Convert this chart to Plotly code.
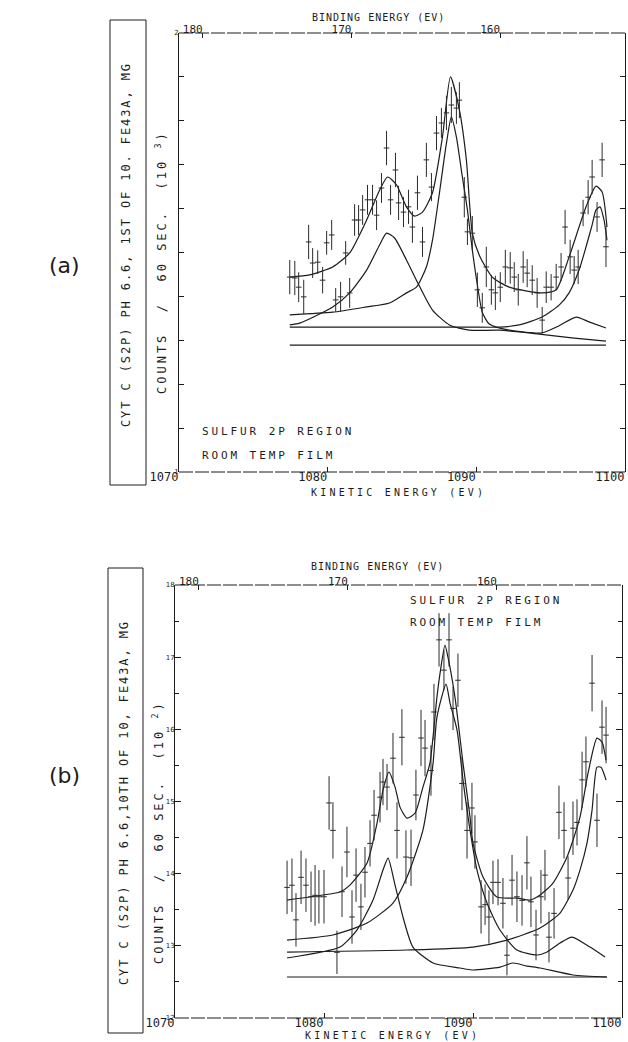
import plotly.graph_objects as go

W, H = 628, 1042
INK = "#1c1c1c"
MONO = "DejaVu Sans Mono"
BE_SUM = 1251.6  # binding energy + kinetic energy (eV)

# ---------------- Panel (a): CYT C (S2P), 1st of 10 scans ----------------
ke_a = [1077.45, 1077.79, 1078.05, 1078.39, 1078.72, 1078.99, 1079.33, 1079.66, 1079.93, 1080.27,
        1080.54, 1080.87, 1081.21, 1081.48, 1081.81, 1082.08, 1082.35, 1082.68, 1083.02, 1083.29,
        1083.62, 1083.96, 1084.23, 1084.56, 1084.77, 1085.10, 1085.44, 1085.70, 1086.04, 1086.38,
        1086.64, 1086.98, 1087.32, 1087.65, 1087.99, 1088.32, 1088.66, 1088.86, 1089.19, 1089.40,
        1089.73, 1090.07, 1090.40, 1090.67, 1091.01, 1091.28, 1091.61, 1091.95, 1092.28, 1092.55,
        1092.82, 1093.15, 1093.42, 1093.76, 1094.09, 1094.43, 1094.70, 1095.03, 1095.37, 1095.70,
        1095.97, 1096.31, 1096.58, 1096.85, 1097.18, 1097.52, 1097.79, 1098.12, 1098.46, 1098.72]
counts_a = [1.444, 1.442, 1.421, 1.399, 1.524, 1.476, 1.478, 1.437, 1.522, 1.540,
            1.392, 1.399, 1.499, 1.408, 1.574, 1.574, 1.597, 1.620, 1.620, 1.585,
            1.647, 1.738, 1.620, 1.688, 1.613, 1.592, 1.604, 1.558, 1.636, 1.524,
            1.711, 1.649, 1.772, 1.795, 1.818, 1.836, 1.829, 1.847, 1.626, 1.547,
            1.544, 1.415, 1.374, 1.467, 1.415, 1.408, 1.421, 1.467, 1.465, 1.444,
            1.415, 1.467, 1.453, 1.437, 1.408, 1.346, 1.421, 1.421, 1.444, 1.467,
            1.558, 1.490, 1.460, 1.467, 1.590, 1.626, 1.672, 1.581, 1.711, 1.513]
err_a = [0.039, 0.039, 0.034, 0.039, 0.039, 0.034, 0.027, 0.030, 0.027, 0.034,
         0.027, 0.034, 0.027, 0.034, 0.036, 0.034, 0.034, 0.034, 0.034, 0.034,
         0.034, 0.039, 0.034, 0.039, 0.039, 0.034, 0.039, 0.036, 0.039, 0.034,
         0.039, 0.032, 0.039, 0.034, 0.039, 0.041, 0.036, 0.041, 0.046, 0.030,
         0.039, 0.039, 0.034, 0.046, 0.034, 0.039, 0.034, 0.039, 0.036, 0.034,
         0.036, 0.036, 0.032, 0.034, 0.034, 0.030, 0.036, 0.030, 0.030, 0.032,
         0.039, 0.039, 0.032, 0.039, 0.030, 0.039, 0.039, 0.034, 0.039, 0.046]

total_ke_a = [1077.45, 1078.79, 1080.34, 1081.48, 1082.62, 1083.49, 1084.03, 1084.63, 1085.30,
              1085.84, 1086.38, 1087.05, 1087.72, 1088.26, 1088.86, 1089.33, 1089.73, 1090.20,
              1091.07, 1092.21, 1094.43, 1095.37, 1096.24, 1097.38, 1098.05, 1098.46, 1098.79]
total_a = [1.444, 1.449, 1.467, 1.499, 1.574, 1.642, 1.672, 1.654, 1.604,
           1.583, 1.592, 1.636, 1.763, 1.900, 1.825, 1.711, 1.544, 1.494,
           1.444, 1.421, 1.408, 1.415, 1.490, 1.604, 1.651, 1.638, 1.558]
peak1_ke_a = [1077.45, 1078.12, 1080.34, 1081.48, 1082.62, 1083.49, 1083.96, 1084.50, 1085.30,
              1085.97, 1087.05, 1088.19, 1089.53, 1091.54, 1094.23, 1096.58, 1098.72]
peak1_a = [1.335, 1.339, 1.376, 1.408, 1.460, 1.517, 1.544, 1.533, 1.483,
           1.437, 1.369, 1.335, 1.323, 1.323, 1.314, 1.305, 1.298]
peak2_ke_a = [1077.45, 1080.34, 1082.62, 1084.16, 1085.30, 1085.97, 1086.64, 1087.05, 1087.52,
              1087.99, 1088.32, 1088.66, 1089.06, 1089.40, 1089.73, 1090.07, 1090.40, 1090.87,
              1092.21, 1094.43, 1095.57, 1096.71, 1097.58, 1098.72]
peak2_a = [1.358, 1.364, 1.376, 1.385, 1.408, 1.421, 1.467, 1.528, 1.636,
           1.749, 1.809, 1.763, 1.672, 1.597, 1.506, 1.426, 1.364, 1.337,
           1.323, 1.317, 1.333, 1.353, 1.342, 1.328]
peak3_ke_a = [1077.45, 1089.53, 1091.54, 1092.89, 1094.43, 1095.57, 1096.24, 1096.91, 1097.38,
              1097.79, 1098.05, 1098.32, 1098.59, 1098.79]
peak3_a = [1.330, 1.330, 1.330, 1.335, 1.353, 1.380, 1.408, 1.460, 1.513,
           1.563, 1.597, 1.604, 1.574, 1.528]
base_ke_a = [1077.45, 1098.72]
base_a = [1.289, 1.289]

# ---------------- Panel (b): CYT C (S2P), 10th of 10 scans ----------------
ke_b = [1077.52, 1077.85, 1078.12, 1078.46, 1078.79, 1079.13, 1079.40, 1079.66, 1080.00, 1080.34,
        1080.60, 1080.87, 1081.21, 1081.54, 1081.88, 1082.15, 1082.48, 1082.75, 1083.09, 1083.36,
        1083.76, 1083.96, 1084.23, 1084.63, 1084.90, 1085.23, 1085.50, 1085.84, 1086.17, 1086.51,
        1086.78, 1087.18, 1087.38, 1087.72, 1088.05, 1088.39, 1088.66, 1088.99, 1089.26, 1089.60,
        1089.93, 1090.13, 1090.54, 1090.81, 1091.07, 1091.34, 1091.68, 1092.01, 1092.28, 1092.62,
        1092.95, 1093.29, 1093.62, 1093.89, 1094.23, 1094.56, 1094.83, 1095.10, 1095.44, 1095.77,
        1096.11, 1096.38, 1096.71, 1096.98, 1097.32, 1097.58, 1097.99, 1098.32, 1098.66, 1098.93]
counts_b = [13.81, 13.84, 13.36, 13.95, 13.84, 13.68, 13.70, 13.68, 13.68, 14.98,
            14.60, 12.91, 13.75, 14.30, 13.40, 13.98, 13.54, 14.02, 14.42, 14.81,
            15.06, 15.27, 15.20, 15.60, 14.60, 15.89, 14.23, 14.22, 15.09, 15.88,
            15.74, 15.43, 16.24, 17.24, 16.82, 17.24, 16.29, 16.68, 15.25, 14.60,
            14.91, 14.44, 13.54, 13.57, 13.40, 13.88, 13.88, 13.59, 12.87, 13.91,
            13.68, 13.63, 14.15, 13.61, 13.15, 13.68, 13.98, 13.12, 13.45, 14.85,
            14.60, 13.94, 14.63, 14.71, 15.30, 15.55, 16.64, 14.74, 16.03, 15.92]
err_b = [0.37, 0.37, 0.37, 0.37, 0.37, 0.35, 0.42, 0.37, 0.37, 0.37,
         0.39, 0.30, 0.35, 0.35, 0.37, 0.37, 0.32, 0.35, 0.32, 0.35,
         0.35, 0.32, 0.32, 0.35, 0.39, 0.39, 0.37, 0.39, 0.35, 0.39,
         0.39, 0.35, 0.39, 0.37, 0.28, 0.37, 0.30, 0.37, 0.37, 0.39,
         0.35, 0.37, 0.37, 0.28, 0.37, 0.30, 0.32, 0.35, 0.28, 0.35,
         0.35, 0.35, 0.37, 0.35, 0.35, 0.37, 0.35, 0.35, 0.35, 0.37,
         0.39, 0.30, 0.37, 0.32, 0.39, 0.35, 0.39, 0.37, 0.37, 0.39]

total_ke_b = [1077.52, 1079.93, 1081.07, 1081.74, 1082.89, 1083.56, 1083.96, 1084.36, 1084.77,
              1085.10, 1085.57, 1086.11, 1086.64, 1087.11, 1087.58, 1087.79, 1088.12, 1088.32,
              1088.79, 1089.33, 1089.80, 1090.00, 1090.67, 1091.61, 1092.95, 1093.83, 1094.50,
              1095.37, 1096.31, 1097.18, 1097.72, 1098.32, 1098.66, 1098.93]
total_b = [13.634, 13.704, 13.745, 13.842, 14.147, 14.701, 15.158, 15.407, 15.199,
           14.922, 14.770, 14.839, 15.199, 15.532, 16.446, 16.778, 17.166, 17.000,
           16.446, 15.532, 14.784, 14.424, 13.953, 13.676, 13.662, 13.634, 13.704,
           13.870, 14.230, 14.784, 15.393, 15.878, 15.823, 15.573]
main_ke_b = [1077.52, 1080.60, 1082.89, 1084.63, 1085.57, 1086.64, 1087.32, 1087.58, 1088.19,
             1088.46, 1088.93, 1089.33, 1089.80, 1090.27, 1090.94, 1091.81, 1092.95, 1094.30,
             1094.97, 1095.84, 1096.64, 1097.85, 1098.86]
main_b = [13.080, 13.150, 13.316, 13.593, 13.953, 14.604, 15.532, 16.169, 16.626,
          16.363, 15.989, 15.296, 14.604, 14.050, 13.593, 13.219, 12.942, 12.873,
          12.914, 13.039, 13.122, 12.983, 12.845]
peak1_ke_b = [1077.52, 1081.07, 1082.21, 1083.29, 1083.96, 1084.30, 1084.77, 1085.30, 1085.97,
              1087.32, 1089.13, 1090.00, 1091.81, 1092.68, 1093.62, 1094.50, 1096.71, 1098.99]
peak1_b = [12.831, 12.983, 13.219, 13.634, 14.050, 14.216, 13.842, 13.399, 12.983,
           12.762, 12.693, 12.665, 12.706, 12.762, 12.720, 12.693, 12.596, 12.568]
peak3_ke_b = [1077.52, 1085.57, 1090.00, 1092.28, 1094.50, 1095.84, 1096.71, 1097.18, 1097.65,
              1097.99, 1098.32, 1098.59, 1098.93]
peak3_b = [12.914, 12.942, 12.983, 13.080, 13.247, 13.454, 13.773, 14.050, 14.424,
           14.881, 15.476, 15.476, 15.296]
base_ke_b = [1077.52, 1098.99]
base_b = [12.568, 12.568]

# ---------------- Axis ticks ----------------
ke_ticks = [1070, 1080, 1090, 1100]
ke_ticktext = ["1070", "1080", "1090", "1100"]
be_ticks = [180, 170, 160]
be_ticktext = ["180", "170", "160"]
ya_ticks = [1.0, 1.1, 1.2, 1.3, 1.4, 1.5, 1.6, 1.7, 1.8, 1.9, 2.0]
ya_ticktext = ["1", " ", " ", " ", " ", " ", " ", " ", " ", " ", "2"]
yb_ticks = [12, 13, 14, 15, 16, 17, 18]
yb_ticktext = ["12", "13", "14", "15", "16", "17", "18"]


def fx(px):
    return px / W


def fy(py):
    return 1 - py / H


def spaced(text, ls):
    return f'<span style="letter-spacing:{ls}px">{text}</span>'


def curve(x, y, xa, ya):
    return go.Scatter(x=x, y=y, mode="lines", xaxis=xa, yaxis=ya,
                      line=dict(color=INK, width=1.2, shape="spline", smoothing=0.6),
                      hoverinfo="skip", showlegend=False)


def points(x, y, e, xa, ya):
    return go.Scatter(x=x, y=y, mode="markers", xaxis=xa, yaxis=ya,
                      marker=dict(symbol="line-ew", size=4, color=INK,
                                  line=dict(width=1, color="#2a2a2a")),
                      error_y=dict(type="data", array=e, visible=True, thickness=1,
                                   width=0, color="#2a2a2a"),
                      hoverinfo="skip", showlegend=False)


fig = go.Figure()

for xs, ys in [(base_ke_a, base_a), (peak3_ke_a, peak3_a), (peak1_ke_a, peak1_a),
               (peak2_ke_a, peak2_a), (total_ke_a, total_a)]:
    fig.add_trace(curve(xs, ys, "x", "y"))
fig.add_trace(points(ke_a, counts_a, err_a, "x", "y"))

for xs, ys in [(base_ke_b, base_b), (peak3_ke_b, peak3_b), (peak1_ke_b, peak1_b),
               (main_ke_b, main_b), (total_ke_b, total_b)]:
    fig.add_trace(curve(xs, ys, "x2", "y2"))
fig.add_trace(points(ke_b, counts_b, err_b, "x2", "y2"))

# binding-energy scales along the top edges
fig.add_trace(go.Scatter(x=[], y=[], xaxis="x3", yaxis="y", showlegend=False))
fig.add_trace(go.Scatter(x=[], y=[], xaxis="x4", yaxis="y2", showlegend=False))

tick_font = dict(family=MONO, size=12, color=INK)
small_font = dict(family=MONO, size=11, color=INK)
tiny_font = dict(family="DejaVu Sans", size=7, color=INK)

ke_axis = dict(range=[1070, 1100], tickvals=ke_ticks, ticktext=ke_ticktext,
               ticks="inside", ticklen=5, tickcolor=INK, showline=False,
               showgrid=False, zeroline=False, automargin=False,
               tickfont=tick_font, ticklabelshift=-15, ticklabelstandoff=-4)
be_axis = dict(range=[BE_SUM - 1070, BE_SUM - 1100], tickvals=be_ticks, ticktext=be_ticktext,
               side="top", ticks="inside", ticklen=5, tickcolor=INK, showline=False,
               showgrid=False, zeroline=False, automargin=False, tickfont=small_font,
               ticklabelshift=10, ticklabelstandoff=-3)

fig.update_layout(
    width=W, height=H, margin=dict(l=0, r=0, t=0, b=0, autoexpand=False),
    paper_bgcolor="white", plot_bgcolor="white", showlegend=False,
    xaxis=dict(ke_axis, domain=[fx(179), fx(625)], anchor="y"),
    yaxis=dict(domain=[fy(472), fy(33)], range=[1.0, 2.0], anchor="x",
               tickvals=ya_ticks, ticktext=ya_ticktext, ticks="inside", ticklen=5,
               tickcolor=INK, showline=True, mirror="ticks", linecolor=INK, linewidth=1,
               showgrid=False, zeroline=False, automargin=False, tickfont=tiny_font,
               ticklabelstandoff=-2),
    xaxis3=dict(be_axis, overlaying="x", anchor="y"),
    xaxis2=dict(ke_axis, domain=[fx(175), fx(622)], anchor="y2"),
    yaxis2=dict(domain=[fy(1018), fy(585)], range=[12, 18], anchor="x2",
                tickvals=yb_ticks, ticktext=yb_ticktext, ticks="inside", ticklen=6,
                tickcolor=INK, showline=True, mirror="ticks", linecolor=INK, linewidth=1,
                showgrid=False, zeroline=False, automargin=False, tickfont=tiny_font,
                ticklabelstandoff=-2,
                minor=dict(dtick=0.5, ticks="inside", ticklen=4, tickcolor=INK)),
    xaxis4=dict(be_axis, overlaying="x2", anchor="y2"),
)


def label(text, x, y, size=11, ls=0.0, angle=0, xanchor="center", family=MONO):
    if ls:
        text = spaced(text, ls)
    return dict(text=text, x=fx(x), y=fy(y), xref="paper", yref="paper", showarrow=False,
                textangle=angle, xanchor=xanchor, yanchor="middle",
                font=dict(family=family, size=size, color=INK))


annotations = [
    # panel (a)
    label("(a)", 64, 265, size=22, family="DejaVu Sans"),
    label("CYT C (S2P) PH 6.6, 1ST OF 10. FE43A, MG", 126, 245, size=12, ls=1.9, angle=-90),
    label("COUNTS  /  60 SEC.  (10 <sup>3</sup>)", 161, 262, size=12, ls=3.0, angle=-90),
    label("BINDING ENERGY (EV)", 378, 17, size=10, ls=1.0),
    label("KINETIC ENERGY (EV)", 398, 492, size=10, ls=3.2),
    label("SULFUR 2P REGION", 200, 432, size=11, ls=2.9, xanchor="left"),
    label("ROOM TEMP FILM", 200, 455, size=11, ls=2.9, xanchor="left"),
    # panel (b)
    label("(b)", 64, 775, size=22, family="DejaVu Sans"),
    label("CYT C (S2P) PH 6.6,10TH OF 10, FE43A, MG", 124, 803, size=12, ls=1.9, angle=-90),
    label("COUNTS  /  60 SEC.  (10 <sup>2</sup>)", 158, 832, size=12, ls=3.0, angle=-90),
    label("BINDING ENERGY (EV)", 377, 566, size=10, ls=1.0),
    label("KINETIC ENERGY (EV)", 392, 1035, size=10, ls=3.2),
    label("SULFUR 2P REGION", 408, 600, size=11, ls=2.9, xanchor="left"),
    label("ROOM TEMP FILM", 408, 622, size=11, ls=2.9, xanchor="left"),
]
fig.update_layout(annotations=annotations)

# pen-plotter frame: broken top and bottom edges of each plot box
for xd, yd in [("x domain", "y domain"), ("x2 domain", "y2 domain")]:
    for edge in (0, 1):
        fig.add_shape(type="line", xref=xd, yref=yd, x0=0, x1=1, y0=edge, y1=edge,
                      line=dict(color=INK, width=1, dash="14px,2px"))

# framed title strips at the left of each panel
for x0, y0, x1, y1 in [(110, 20, 146, 485), (108, 568, 143, 1033)]:
    fig.add_shape(type="rect", xref="paper", yref="paper",
                  x0=fx(x0), x1=fx(x1), y0=fy(y1), y1=fy(y0),
                  line=dict(color=INK, width=1), fillcolor="rgba(0,0,0,0)")

fig.write_html("out.html")
